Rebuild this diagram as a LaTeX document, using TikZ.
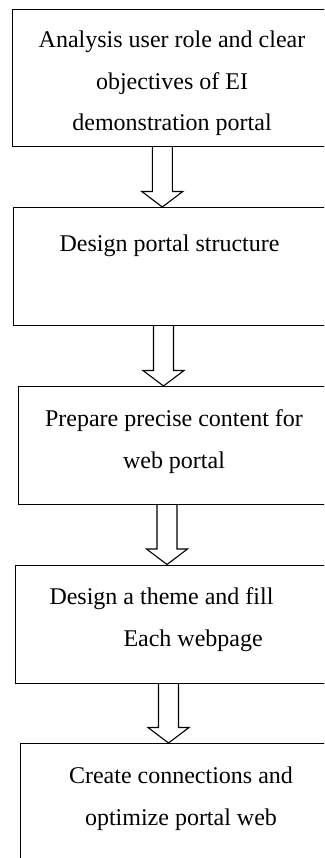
\documentclass[tikz,border=0pt]{standalone}
\usepackage{fontspec}
\setmainfont{Liberation Serif}
\usetikzlibrary{calc}

\tikzset{
  stage/.style={draw=black, line width=1.1pt, rectangle, inner sep=0pt},
  label/.style={inner sep=0pt, align=center, anchor=base,
                font=\fontsize{24}{41.5}\selectfont},
  hollow/.style={draw=black, line width=1.1pt, line join=miter},
}

% hollow block arrow: centre x (pt), from node, to node
\newcommand{\flowarrow}[3]{%
  \draw[hollow] let \p1=(#2.south), \p2=(#3.north) in
    ({#1pt-10pt},\y1) -- ({#1pt-10pt},{\y2+15.5pt})
    -- ({#1pt-20.5pt},{\y2+15.5pt}) -- ({#1pt},\y2)
    -- ({#1pt+20.5pt},{\y2+15.5pt}) -- ({#1pt+10pt},{\y2+15.5pt})
    -- ({#1pt+10pt},\y1);}

\begin{document}
\begin{tikzpicture}[x=1pt, y=-1pt]
  \useasboundingbox (0,0) rectangle (324,858);
  \clip (0,0) rectangle (324,858);

  % process stages (their right edges run past the page)
  \node[stage, anchor=north west, minimum width=321pt, minimum height=137pt] (b1) at (12.3,9) {};
  \node[stage, anchor=north west, minimum width=320pt, minimum height=118pt] (b2) at (13.3,207) {};
  \node[stage, anchor=north west, minimum width=320pt, minimum height=118pt] (b3) at (17.7,386) {};
  \node[stage, anchor=north west, minimum width=320pt, minimum height=118.5pt] (b4) at (15.3,564.5) {};
  \node[stage, anchor=north west, minimum width=320pt, minimum height=130pt] (b5) at (20,743) {};

  % stage texts (placed by the baseline of their last line)
  \node[label] (t1) at (172,131) {Analysis user role and clear\\objectives of EI\\demonstration portal};
  \node[label] (t2) at (169.5,252) {Design portal structure};
  \node[label] (t3) at (174,468) {Prepare precise content for\\web portal};
  \node[label, align=left, anchor=base west] (t4) at (49.3,646) {Design a theme and fill\\\hspace*{74pt}Each webpage};
  \node[label] (t5) at (181,825) {Create connections and\\optimize portal web};

  % transitions
  \flowarrow{162.3}{b1}{b2}
  \flowarrow{163.5}{b2}{b3}
  \flowarrow{167}{b3}{b4}
  \flowarrow{168.5}{b4}{b5}
\end{tikzpicture}
\end{document}
